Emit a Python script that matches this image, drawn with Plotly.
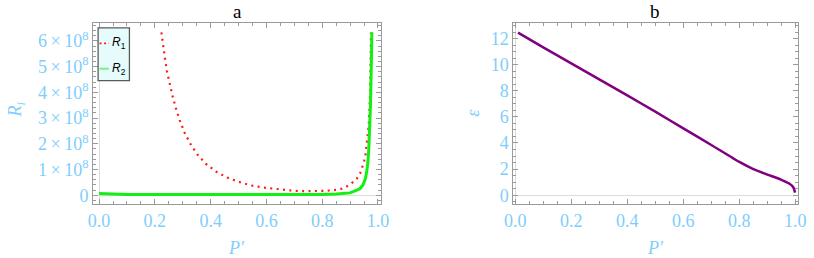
import plotly.graph_objects as go

# ---- data ----
r1_x = [0.2235, 0.229, 0.236, 0.243, 0.2526, 0.263, 0.275, 0.289, 0.306, 0.326, 0.352,
        0.382, 0.419, 0.459, 0.501, 0.544, 0.588, 0.636, 0.68, 0.724, 0.771, 0.815,
        0.861, 0.882, 0.903, 0.923, 0.936, 0.944, 0.950, 0.955, 0.960, 0.967, 0.972,
        0.974, 0.975]
r1_y8 = [6.33, 5.84, 5.35, 4.84, 4.35, 3.88, 3.40, 2.92, 2.45, 2.02, 1.59,
         1.23, 0.92, 0.69, 0.52, 0.38, 0.30, 0.23, 0.19, 0.155, 0.155, 0.17,
         0.22, 0.30, 0.44, 0.63, 0.85, 1.10, 1.30, 1.55, 2.0, 2.75, 4.0,
         5.3, 6.33]

r2_x = [0.0, 0.05, 0.1, 0.2, 0.3, 0.4, 0.5, 0.6, 0.7, 0.8, 0.85, 0.9, 0.92, 0.935,
        0.946, 0.955, 0.96, 0.964, 0.967, 0.970, 0.973, 0.976, 0.978]
r2_y8 = [0.065, 0.04, 0.03, 0.025, 0.022, 0.02, 0.02, 0.02, 0.022, 0.03, 0.045, 0.09,
         0.18, 0.25, 0.4, 0.65, 0.95, 1.3, 1.8, 2.5, 3.5, 5.0, 6.34]

eps_x = [0.01, 0.1, 0.2, 0.3, 0.4, 0.5, 0.6, 0.7, 0.8, 0.85, 0.9, 0.95, 0.978,
         0.993, 0.999]
eps_y = [12.45, 11.33, 10.1, 8.88, 7.65, 6.4, 5.12, 3.85, 2.55, 2.0, 1.58, 1.18, 0.89,
         0.59, 0.2]

x_ticks = [0.0, 0.2, 0.4, 0.6, 0.8, 1.0]
x_ticktext = ["0.0", "0.2", "0.4", "0.6", "0.8", "1.0"]
ya_ticks = [0, 1e8, 2e8, 3e8, 4e8, 5e8, 6e8]
ya_ticktext = ["0"] + [f"{k}\u2009×\u200910<sup>8</sup>" for k in range(1, 7)]
yb_ticks = [0, 2, 4, 6, 8, 10, 12]

panel_titles = ["a", "b"]
legend_names = ["R<sub>1</sub>", "R<sub>2</sub>"]

W, H = 814, 258
LBLUE = "#7fcdfc"
FRAME = "#9a9a9a"
SERIF = "'Liberation Serif', 'Times New Roman', Times, serif"

fig = go.Figure()
fig.add_trace(go.Scatter(x=r1_x, y=[v * 1e8 for v in r1_y8], mode="lines", name="R1",
                         line=dict(color="#ff1a1a", width=2.2, dash="2px,4.4px"),
                         xaxis="x", yaxis="y", showlegend=False))
fig.add_trace(go.Scatter(x=r2_x, y=[v * 1e8 for v in r2_y8], mode="lines", name="R2",
                         line=dict(color="#12f012", width=3),
                         xaxis="x", yaxis="y", showlegend=False))
fig.add_trace(go.Scatter(x=eps_x, y=eps_y, mode="lines", name="epsilon",
                         line=dict(color="#800080", width=2.5, shape="spline", smoothing=0.5),
                         xaxis="x2", yaxis="y2", showlegend=False))

def px_x(p):
    return p / W

def px_y(p):
    return 1 - p / H

common_x = dict(
    tickvals=x_ticks, ticktext=x_ticktext, ticks="inside", ticklen=5, tickcolor=FRAME,
    tickwidth=1, mirror="ticks", showline=True, linecolor=FRAME, linewidth=1,
    showgrid=False, zeroline=True, zerolinecolor="#dcdcdc", zerolinewidth=1,
    minor=dict(dtick=0.05, ticks="inside", ticklen=3, tickcolor=FRAME, showgrid=False),
    tickfont=dict(family=SERIF, size=18, color=LBLUE),
)
common_y = dict(
    ticks="inside", ticklen=5, tickcolor=FRAME, tickwidth=1, mirror="ticks",
    showline=True, linecolor=FRAME, linewidth=1, showgrid=False, zeroline=True,
    zerolinecolor="#dcdcdc", zerolinewidth=1,
    tickfont=dict(family=SERIF, size=18, color=LBLUE),
)

ydom = [px_y(205), px_y(23)]
fig.update_layout(
    width=W, height=H, margin=dict(l=0, r=0, t=0, b=0),
    paper_bgcolor="white", plot_bgcolor="white",
    xaxis=dict(domain=[px_x(86), px_x(380)], range=[-0.021, 1.011], anchor="y", **common_x),
    yaxis=dict(domain=ydom, range=[-0.35e8, 6.7e8], anchor="x",
               tickvals=ya_ticks, ticktext=ya_ticktext,
               minor=dict(dtick=0.2e8, ticks="inside", ticklen=3, tickcolor=FRAME, showgrid=False),
               **common_y),
    xaxis2=dict(domain=[px_x(515), px_x(806)], range=[-0.007, 1.01], anchor="y2", **common_x),
    yaxis2=dict(domain=ydom, range=[-0.69, 13.2], anchor="x2",
                tickvals=yb_ticks, ticktext=[str(v) for v in yb_ticks],
                minor=dict(dtick=0.5, ticks="inside", ticklen=3, tickcolor=FRAME, showgrid=False),
                **common_y),
)

title_font = dict(family=SERIF, size=18, color=LBLUE)
# axis titles
for cx in [232, 660]:
    fig.add_annotation(text="<i>P′</i>", x=px_x(cx), y=px_y(249), xref="paper", yref="paper",
                       showarrow=False, xanchor="center", yanchor="middle", font=title_font)
fig.add_annotation(text="<i>R<sub>i</sub></i>", x=px_x(8), y=px_y(110), xref="paper", yref="paper",
                   showarrow=False, xanchor="center", yanchor="middle", textangle=-90, font=title_font)
fig.add_annotation(text="<i>ε</i>", x=px_x(473), y=px_y(113), xref="paper", yref="paper",
                   showarrow=False, xanchor="center", yanchor="middle", textangle=-90, font=title_font)

# panel titles
for txt, cx in zip(panel_titles, [233, 660]):
    fig.add_annotation(text=txt, x=px_x(cx), y=px_y(12), xref="paper", yref="paper",
                       showarrow=False, xanchor="center", yanchor="middle",
                       font=dict(family=SERIF, size=19, color="black"))

# legend box (panel a)
fig.add_shape(type="rect", xref="paper", yref="paper",
              x0=px_x(91), x1=px_x(123), y0=px_y(81), y1=px_y(28),
              fillcolor="#e6fcfc", line=dict(color="#5a5a5a", width=1.3), layer="above")
fig.add_shape(type="line", xref="paper", yref="paper",
              x0=px_x(92.5), x1=px_x(102), y0=px_y(43.5), y1=px_y(43.5),
              line=dict(color="#ff1a1a", width=1.6, dash="2px,2.5px"), layer="above")
fig.add_shape(type="line", xref="paper", yref="paper",
              x0=px_x(92.5), x1=px_x(102), y0=px_y(69), y1=px_y(69),
              line=dict(color="#7ef07e", width=2), layer="above")
for name, cy in zip(legend_names, [43.5, 69]):
    fig.add_annotation(text="<i>R</i>" + name[1:], x=px_x(103), y=px_y(cy),
                       xref="paper", yref="paper", showarrow=False,
                       xanchor="left", yanchor="middle",
                       font=dict(family="'Liberation Sans', Arial, sans-serif", size=12, color="black"))

fig.write_html("out.html", config={"displayModeBar": False, "staticPlot": True},
               post_script="document.body.style.margin='0';document.body.style.overflow='hidden';")
